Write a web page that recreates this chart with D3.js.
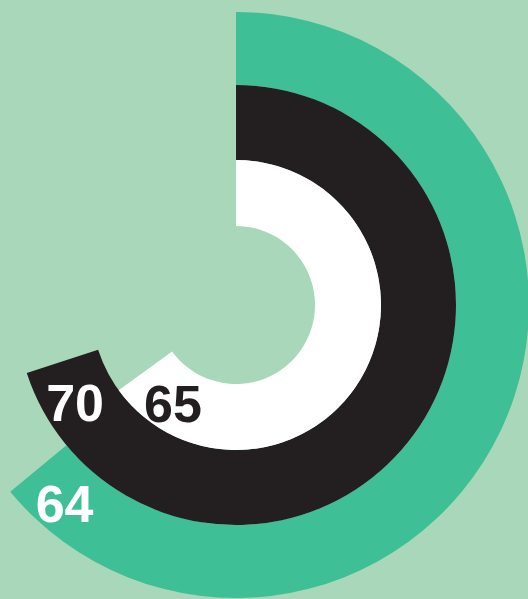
<!DOCTYPE html>
<html lang="en">
<head>
    <meta charset="UTF-8">
    <title>Radial bars</title>
    <script src="https://d3js.org/d3.v7.min.js"></script>
    <style>
        body {
            margin: 0;
            padding: 0;
            background-color: #a8d8b9;
            overflow: hidden;
        }
        svg {
            display: block;
            background-color: #a8d8b9;
        }
        .label {
            font-family: 'Liberation Sans', Arial, sans-serif;
            font-weight: bold;
            font-size: 52px;
        }
    </style>
</head>
<body>
    <svg width="528" height="599"></svg>
    <script>
        // outer ring first
        const labels = ["64", "70", "65"];
        const values = [64, 70, 65];
        const fills = ["#3ebf95", "#231f20", "#ffffff"];
        const textFills = ["#ffffff", "#ffffff", "#231f20"];

        const width = 528, height = 599;
        const cx = 236, cy = 305;
        const svg = d3.select("svg");
        const g = svg.append("g").attr("transform", `translate(${cx},${cy})`);

        // percentage -> angle, clockwise from 12 o'clock
        const angle = d3.scaleLinear().domain([0, 100]).range([0, 2 * Math.PI]);

        // ring bands, outer to inner
        const bands = [[220, 293], [145, 220], [79, 145]];

        const arc = d3.arc()
            .innerRadius((d, i) => bands[i][0])
            .outerRadius((d, i) => bands[i][1])
            .startAngle(0)
            .endAngle(d => angle(d));

        g.selectAll(".ring")
            .data(values)
            .enter()
            .append("path")
            .attr("class", "ring")
            .attr("d", (d, i) => arc(d, i))
            .attr("fill", (d, i) => fills[i]);

        // labels sit near the end of each bar, a bit back along the band
        function labelPos(d, i) {
            const r = bands[i][0] + 0.58 * (bands[i][1] - bands[i][0]);
            const a = angle(d) - 44 / r;
            return [r * Math.sin(a), -r * Math.cos(a)];
        }

        g.selectAll(".label")
            .data(values)
            .enter()
            .append("text")
            .attr("class", "label")
            .attr("text-anchor", "middle")
            .attr("dominant-baseline", "central")
            .attr("fill", (d, i) => textFills[i])
            .attr("x", (d, i) => labelPos(d, i)[0])
            .attr("y", (d, i) => labelPos(d, i)[1])
            .text((d, i) => labels[i]);
    </script>
</body>
</html>
